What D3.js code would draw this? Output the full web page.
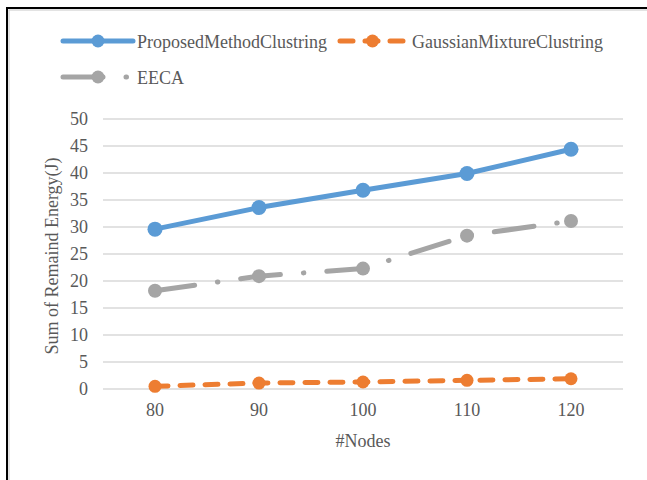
<!DOCTYPE html>
<html>
<head>
<meta charset="utf-8">
<script src="https://cdn.jsdelivr.net/npm/d3@7"></script>
<style>
  html, body { margin: 0; padding: 0; background: #fff; }
  svg { display: block; }
  text { font-family: "Liberation Serif", "Times New Roman", serif; fill: #595959; }
</style>
</head>
<body>
<svg id="chart" width="647" height="480"></svg>
<script>
// Node counts on the x axis
const nodes = [80, 90, 100, 110, 120];
// Sum of remaining energy (J) for each method
const proposed = [29.6, 33.6, 36.8, 39.9, 44.4];
const gaussian = [0.5, 1.1, 1.3, 1.6, 1.9];
const eeca = [18.2, 20.9, 22.3, 28.4, 31.1];
const yTicks = [0, 5, 10, 15, 20, 25, 30, 35, 40, 45, 50];
const seriesNames = ["ProposedMethodClustring", "GaussianMixtureClustring", "EECA"];

const serif = '"Liberation Serif", "Times New Roman", serif';
const svg = d3.select("#chart");

// outer frame
svg.append("rect").attr("x", 7).attr("y", 8).attr("width", 700).attr("height", 520)
  .attr("fill", "none").attr("stroke", "#000").attr("stroke-width", 2);
svg.append("rect").attr("x", 9).attr("y", 10).attr("width", 700).attr("height", 520)
  .attr("fill", "none").attr("stroke", "#c8c8c8").attr("stroke-width", 1);

const plot = { left: 103, right: 623, top: 119, bottom: 389 };

const x = d3.scaleBand().domain(nodes).range([plot.left, plot.right]);
const xc = d => x(d) + x.bandwidth() / 2;
const y = d3.scaleLinear().domain([0, 50]).range([plot.bottom, plot.top]);

// horizontal gridlines
svg.append("g").selectAll("line").data(yTicks).join("line")
  .attr("x1", plot.left).attr("x2", plot.right)
  .attr("y1", d => y(d)).attr("y2", d => y(d))
  .attr("stroke", "#d9d9d9").attr("stroke-width", 1.5);

// y axis labels
const yAxis = svg.append("g").attr("transform", `translate(${plot.left - 15},0)`)
  .call(d3.axisLeft(y).tickValues(yTicks).tickSize(0).tickPadding(0));
yAxis.select(".domain").remove();
yAxis.attr("font-family", null).attr("font-size", null);
yAxis.selectAll("text").style("font-size", "18px").style("fill", "#595959")
  .style("font-family", serif);

// x axis labels
const xAxis = svg.append("g").attr("transform", `translate(0,${plot.bottom + 14})`)
  .call(d3.axisBottom(x).tickSize(0).tickPadding(0));
xAxis.select(".domain").remove();
xAxis.attr("font-family", null).attr("font-size", null);
xAxis.selectAll("text").style("font-size", "18px").style("fill", "#595959")
  .style("font-family", serif);

// axis titles
svg.append("text").attr("x", (plot.left + plot.right) / 2).attr("y", 447)
  .attr("text-anchor", "middle").style("font-size", "18px").text("#Nodes");
svg.append("text").attr("transform", `translate(58,${(plot.top + plot.bottom) / 2 + 2}) rotate(-90)`)
  .attr("text-anchor", "middle").style("font-size", "18px").text("Sum of Remaind Energy(J)");

const styles = [
  { color: "#5b9bd5", dash: null, cap: "round", r: 7.5 },
  { color: "#ed7d31", dash: "13,12", cap: "round", r: 6.5 },
  { color: "#a5a5a5", dash: "40,23,0.5,23", cap: "round", r: 7 }
];
const allSeries = [proposed, gaussian, eeca];

const line = d3.line().x((d, i) => xc(nodes[i])).y(d => y(d));

// draw grey, orange, blue so blue sits on top
[2, 1, 0].forEach(k => {
  const s = styles[k];
  const g = svg.append("g");
  g.append("path").datum(allSeries[k]).attr("d", line)
    .attr("fill", "none").attr("stroke", s.color).attr("stroke-width", 5)
    .attr("stroke-linecap", s.cap).attr("stroke-linejoin", "round")
    .attr("stroke-dasharray", s.dash);
  g.selectAll("circle").data(allSeries[k]).join("circle")
    .attr("cx", (d, i) => xc(nodes[i])).attr("cy", d => y(d))
    .attr("r", s.r).attr("fill", s.color);
});

// legend
const legendItems = [
  { k: 0, x: 63, y: 41 },
  { k: 1, x: 340, y: 41 },
  { k: 2, x: 63, y: 77 }
];
legendItems.forEach(it => {
  const s = styles[it.k];
  const len = it.k === 1 ? 65 : 70;
  const g = svg.append("g");
  g.append("line").attr("x1", it.x).attr("x2", it.x + len).attr("y1", it.y).attr("y2", it.y)
    .attr("stroke", s.color).attr("stroke-width", 5)
    .attr("stroke-linecap", s.cap).attr("stroke-dasharray", s.dash);
  g.append("circle").attr("cx", it.x + len / 2).attr("cy", it.y).attr("r", 6.5).attr("fill", s.color);
  g.append("text").attr("x", it.x + len + (it.k === 1 ? 7 : 4)).attr("y", it.y + 7)
    .style("font-size", "18px").text(seriesNames[it.k]);
});
</script>
</body>
</html>
